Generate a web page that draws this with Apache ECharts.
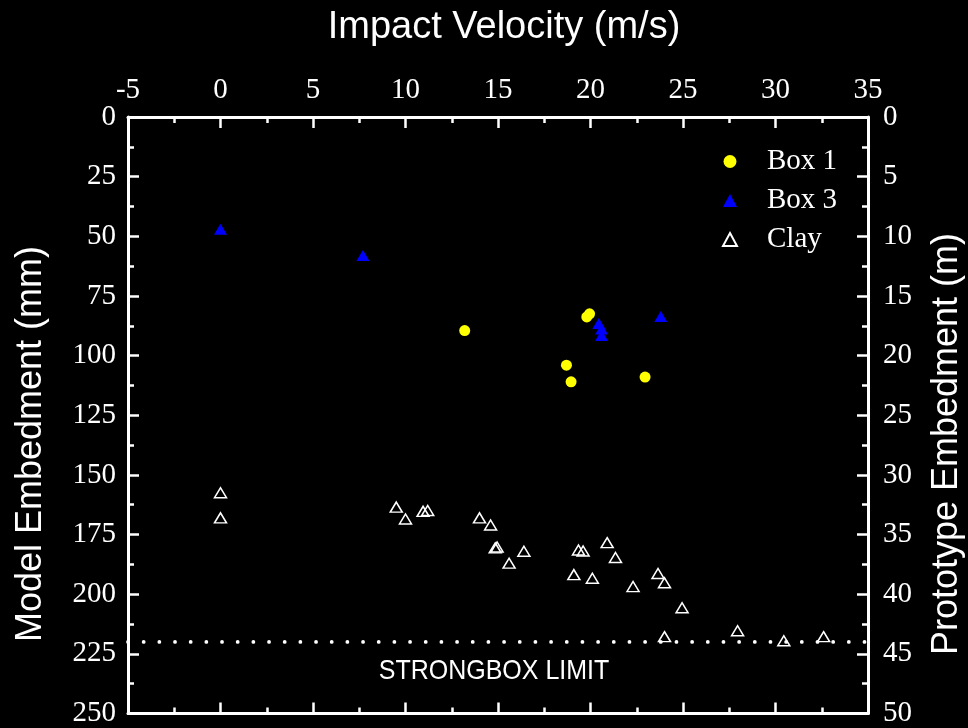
<!DOCTYPE html>
<html>
<head>
<meta charset="utf-8">
<script src="https://cdn.jsdelivr.net/npm/echarts@6/dist/echarts.min.js"></script>
<style>
html,body{margin:0;padding:0;background:#000;}
#chart{width:968px;height:728px;}
</style>
</head>
<body>
<div id="chart"></div>
<script>
// Data (velocity m/s, model embedment mm)
var box1 = [[13.2, 89.5], [19.8, 83.8], [19.95, 82.5], [18.7, 104], [18.95, 111], [22.95, 109]];
var box3 = [[0, 47], [7.7, 58], [20.45, 86.5], [20.6, 88.8], [20.6, 91.6], [23.8, 83.6]];
var clay = [
  [0, 157.5], [0, 168], [9.5, 163.5], [10.0, 168.5], [10.95, 165.3], [11.2, 164.9],
  [14.0, 168], [14.6, 171], [14.85, 180.6], [14.95, 180.2], [16.4, 182], [15.6, 187],
  [19.35, 181.5], [19.6, 181.9], [20.9, 178.4], [21.35, 184.6], [19.1, 191.8], [20.1, 193.3],
  [22.3, 196.8], [23.65, 191.3], [24.0, 195.2], [24.95, 205.7], [24.0, 217.8],
  [27.95, 215.3], [30.45, 219.5], [32.6, 217.8]
];
var strongboxLimit = [[-5, 220], [35, 220]];
var xTicks = { min: -5, max: 35, interval: 5 };
var yLeftTicks = { min: 0, max: 250, interval: 25 };
var yRightTicks = { min: 0, max: 50, interval: 5 };

var serif = '"Liberation Serif", "Times New Roman", serif';
var sans = '"Liberation Sans", Arial, sans-serif';

function axisBase(showLabel) {
  return {
    axisLine: { show: true, onZero: false, lineStyle: { color: '#fff', width: 3 } },
    axisTick: { show: true, inside: true, length: 11, lineStyle: { color: '#fff', width: 2.5 } },
    minorTick: { show: true, splitNumber: 2, length: 6, lineStyle: { color: '#fff', width: 2.5 } },
    splitLine: { show: false },
    minorSplitLine: { show: false },
    axisLabel: { show: showLabel, color: '#fff', fontFamily: serif, fontSize: 29, margin: 12 }
  };
}

var chart = echarts.init(document.getElementById('chart'), null, { renderer: 'canvas' });

var xTop = Object.assign(axisBase(true), { type: 'value', position: 'top', min: xTicks.min, max: xTicks.max, interval: xTicks.interval });
var xBottom = Object.assign(axisBase(false), { type: 'value', position: 'bottom', min: xTicks.min, max: xTicks.max, interval: xTicks.interval });
var yLeft = Object.assign(axisBase(true), { type: 'value', position: 'left', inverse: true, min: yLeftTicks.min, max: yLeftTicks.max, interval: yLeftTicks.interval });
var yRight = Object.assign(axisBase(true), { type: 'value', position: 'right', inverse: true, min: yRightTicks.min, max: yRightTicks.max, interval: yRightTicks.interval });
yRight.axisLabel = Object.assign({}, yRight.axisLabel, { margin: 15 });

chart.setOption({
  backgroundColor: '#000',
  animation: false,
  grid: { left: 128, right: 100, top: 117, bottom: 14, containLabel: false },
  xAxis: [xTop, xBottom],
  yAxis: [yLeft, yRight],
  legend: {
    orient: 'vertical',
    left: 717,
    top: 142,
    itemWidth: 14,
    itemHeight: 13,
    itemGap: 10,
    textStyle: { color: '#fff', fontFamily: serif, fontSize: 29, padding: [0, 0, 0, 25] },
    data: ['Box 1', 'Box 3', 'Clay']
  },
  graphic: [
    { type: 'text', x: 504, y: 28, style: { text: 'Impact Velocity (m/s)', fill: '#fff', font: '38px ' + sans, align: 'center', verticalAlign: 'middle' } },
    { type: 'text', x: 31, y: 444, rotation: Math.PI / 2, style: { text: 'Model Embedment (mm)', fill: '#fff', font: '36px ' + sans, align: 'center', verticalAlign: 'middle' } },
    { type: 'text', x: 947, y: 444, rotation: Math.PI / 2, style: { text: 'Prototype Embedment (m)', fill: '#fff', font: '36px ' + sans, align: 'center', verticalAlign: 'middle' } },
    { type: 'text', x: 494, y: 671, scaleY: 1.12, style: { text: 'STRONGBOX LIMIT', fill: '#fff', font: '25px ' + sans, align: 'center', verticalAlign: 'middle' } }
  ],
  series: [
    {
      name: 'Strongbox limit', type: 'line', xAxisIndex: 0, yAxisIndex: 0,
      data: strongboxLimit, symbol: 'none', silent: true,
      lineStyle: { color: '#fff', width: 3.8, type: [0.01, 15.66], cap: 'round' }
    },
    {
      name: 'Box 1', type: 'scatter', xAxisIndex: 0, yAxisIndex: 0, data: box1,
      symbol: 'circle', symbolSize: 11,
      itemStyle: { color: '#ffff00', opacity: 1 }
    },
    {
      name: 'Box 3', type: 'scatter', xAxisIndex: 0, yAxisIndex: 0, data: box3,
      symbol: 'triangle', symbolSize: [13, 11],
      itemStyle: { color: '#0000ff', opacity: 1 }
    },
    {
      name: 'Clay', type: 'scatter', xAxisIndex: 0, yAxisIndex: 0, data: clay,
      symbol: 'triangle', symbolSize: [12, 10],
      itemStyle: { color: 'rgba(0,0,0,0)', borderColor: '#fff', borderWidth: 1.5, opacity: 1 }
    }
  ]
});
</script>
</body>
</html>
